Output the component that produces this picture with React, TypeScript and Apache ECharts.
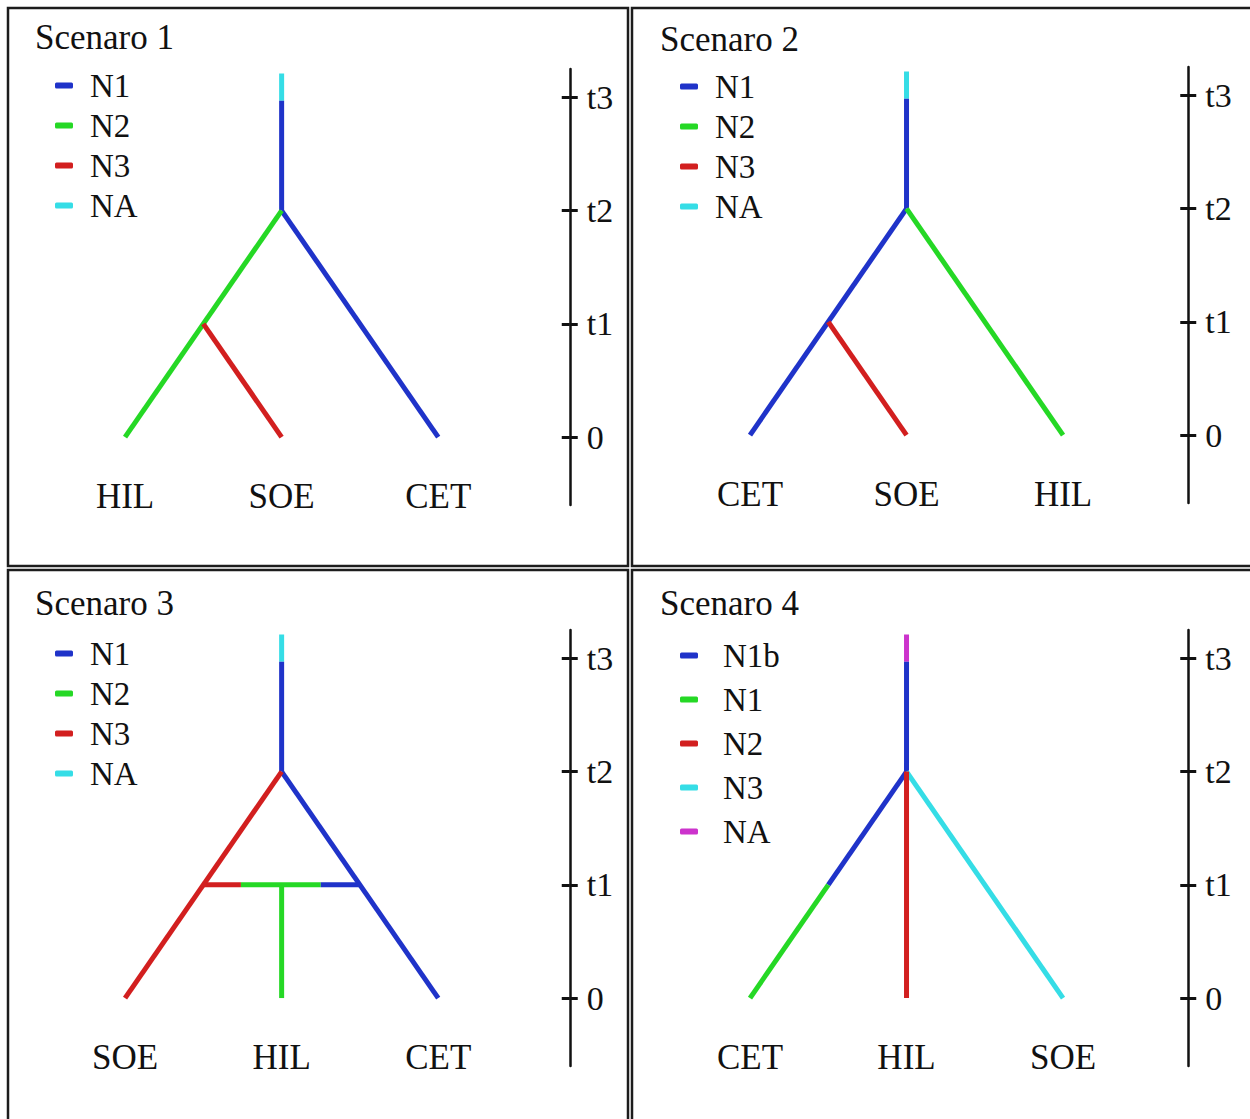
import React, { useEffect, useRef } from "react";
import * as echarts from "echarts";

const FONT = "Liberation Serif";

// Time axis
const timeValues = [0, 1, 2, 3];
const timeLabels = ["0", "t1", "t2", "t3"];

// Panel titles
const titles = ["Scenaro 1", "Scenaro 2", "Scenaro 3", "Scenaro 4"];

// Leaf (population) labels for each scenario, left to right
const leaves1 = ["HIL", "SOE", "CET"];
const leaves2 = ["CET", "SOE", "HIL"];
const leaves3 = ["SOE", "HIL", "CET"];
const leaves4 = ["CET", "HIL", "SOE"];

// Legend entries
const legend123 = ["N1", "N2", "N3", "NA"];
const legend4 = ["N1b", "N1", "N2", "N3", "NA"];

// Colours
const colors123: Record<string, string> = {
  N1: "#1f33c9",
  N2: "#25d825",
  N3: "#d21f1f",
  NA: "#35dde6",
};
const colors4: Record<string, string> = {
  N1b: "#1f33c9",
  N1: "#25d825",
  N2: "#d21f1f",
  N3: "#35dde6",
  NA: "#cc33cc",
};

// Branch segments: [lineage, [[x,t],[x,t]]]  (x = leaf position, t = time)
type Seg = [string, number[][]];
const segments1: Seg[] = [
  ["NA", [[1, 3.21], [1, 2.97]]],
  ["N1", [[1, 2.97], [1, 2]]],
  ["N1", [[1, 2], [2, 0]]],
  ["N2", [[0, 0], [1, 2]]],
  ["N3", [[0.5, 1], [1, 0]]],
];
const segments2: Seg[] = [
  ["NA", [[1, 3.21], [1, 2.97]]],
  ["N1", [[1, 2.97], [1, 2]]],
  ["N1", [[0, 0], [1, 2]]],
  ["N2", [[1, 2], [2, 0]]],
  ["N3", [[0.5, 1], [1, 0]]],
];
const segments3: Seg[] = [
  ["NA", [[1, 3.21], [1, 2.97]]],
  ["N1", [[1, 2.97], [1, 2]]],
  ["N1", [[1, 2], [2, 0]]],
  ["N3", [[0, 0], [1, 2]]],
  ["N2", [[1, 1], [1, 0]]],
  ["N3", [[0.5, 1], [0.74, 1]]],
  ["N2", [[0.74, 1], [1.25, 1]]],
  ["N1", [[1.25, 1], [1.5, 1]]],
];
const segments4: Seg[] = [
  ["NA", [[1, 3.21], [1, 2.97]]],
  ["N1b", [[1, 2.97], [1, 2]]],
  ["N1b", [[0.5, 1], [1, 2]]],
  ["N1", [[0, 0], [0.5, 1]]],
  ["N3", [[1, 2], [2, 0]]],
  ["N2", [[1, 2], [1, 0]]],
];

const panels = [
  { title: titles[0], leaves: leaves1, legend: legend123, colors: colors123, segs: segments1,
    box: [8, 8, 620, 558], grid: [46.75, 69, 523, 436], xMax: 2.84,
    titlePos: [35, 20], legendPos: [55, 69], legendGap: 7, textPad: 12 },
  { title: titles[1], leaves: leaves2, legend: legend123, colors: colors123, segs: segments2,
    box: [632, 8, 640, 558], grid: [671.75, 67, 516.5, 436], xMax: 2.8,
    titlePos: [660, 22], legendPos: [680, 70], legendGap: 7, textPad: 12 },
  { title: titles[2], leaves: leaves3, legend: legend123, colors: colors123, segs: segments3,
    box: [8, 570, 620, 600], grid: [46.75, 630, 523, 436], xMax: 2.84,
    titlePos: [35, 586], legendPos: [55, 637], legendGap: 7, textPad: 12 },
  { title: titles[3], leaves: leaves4, legend: legend4, colors: colors4, segs: segments4,
    box: [632, 570, 640, 600], grid: [671.75, 630, 516.5, 436], xMax: 2.8,
    titlePos: [660, 586], legendPos: [680, 639], legendGap: 11, textPad: 20 },
];

export default function App() {
  const ref = useRef<HTMLDivElement>(null);
  useEffect(() => {
    if (!ref.current) return;
    const chart = echarts.init(ref.current, null, { renderer: "svg" });
    const grid: any[] = [];
    const xAxis: any[] = [];
    const yAxis: any[] = [];
    const series: any[] = [];
    const legend: any[] = [];
    const title: any[] = [];
    const graphic: any[] = [];

    panels.forEach((p, i) => {
      graphic.push({
        type: "rect",
        shape: { x: p.box[0], y: p.box[1], width: p.box[2], height: p.box[3] },
        style: { fill: "none", stroke: "#1c1c1c", lineWidth: 2.5 },
        silent: true,
        z: 0,
      });
      grid.push({ left: p.grid[0], top: p.grid[1], width: p.grid[2], height: p.grid[3] });
      title.push({
        text: p.title,
        left: p.titlePos[0],
        top: p.titlePos[1],
        padding: 0,
        textStyle: { fontFamily: FONT, fontSize: 35, fontWeight: "normal", color: "#111" },
      });
      xAxis.push({
        type: "value",
        gridIndex: i,
        min: -0.5,
        max: p.xMax,
        position: "bottom",
        axisLine: { show: false, onZero: false },
        axisTick: { show: false },
        splitLine: { show: false },
        axisLabel: {
          customValues: [0, 1, 2],
          formatter: (v: number) => p.leaves[Math.round(v)] ?? "",
          margin: -26,
          fontFamily: FONT,
          fontSize: 35,
          color: "#111",
        },
      });
      yAxis.push({
        type: "value",
        gridIndex: i,
        min: -0.6,
        max: 3.25,
        position: "right",
        axisLine: { show: true, onZero: false, lineStyle: { color: "#111", width: 2.5 } },
        axisTick: {
          show: true,
          customValues: timeValues,
          length: 8,
          inside: false,
          lineStyle: { color: "#111", width: 3 },
        },
        splitLine: { show: false },
        axisLabel: {
          customValues: timeValues,
          formatter: (v: number) => timeLabels[timeValues.indexOf(Math.round(v))] ?? "",
          margin: 17,
          fontFamily: FONT,
          fontSize: 34,
          color: "#111",
        },
      });
      yAxis.push({
        type: "value",
        gridIndex: i,
        min: -0.6,
        max: 3.25,
        position: "right",
        axisLine: { show: false, onZero: false },
        axisTick: {
          show: true,
          customValues: timeValues,
          length: 8,
          inside: true,
          lineStyle: { color: "#111", width: 3 },
        },
        splitLine: { show: false },
        axisLabel: { show: false },
      });
      p.segs.forEach(([name, pts]) => {
        const c = p.colors[name];
        series.push({
          type: "line",
          name,
          xAxisIndex: i,
          yAxisIndex: 2 * i,
          data: pts,
          symbol: "none",
          showSymbol: false,
          silent: true,
          color: c,
          itemStyle: { color: c },
          lineStyle: { color: c, width: 5 },
          z: 3,
        });
      });
      legend.push({
        orient: "vertical",
        left: p.legendPos[0],
        top: p.legendPos[1],
        padding: 0,
        itemGap: p.legendGap,
        icon: "roundRect",
        itemWidth: 18,
        itemHeight: 6,
        selectedMode: false,
        textStyle: { fontFamily: FONT, fontSize: 33, color: "#111", padding: [0, 0, 0, p.textPad] },
        data: p.legend.map((n) => ({ name: n, itemStyle: { color: p.colors[n] } })),
      });
    });

    chart.setOption({
      animation: false,
      backgroundColor: "#ffffff",
      title,
      grid,
      xAxis,
      yAxis,
      series,
      legend,
      graphic,
    });
    return () => chart.dispose();
  }, []);
  return (
    <div
      ref={ref}
      style={{ position: "fixed", left: 0, top: 0, width: 1250, height: 1119, background: "#fff" }}
    />
  );
}
